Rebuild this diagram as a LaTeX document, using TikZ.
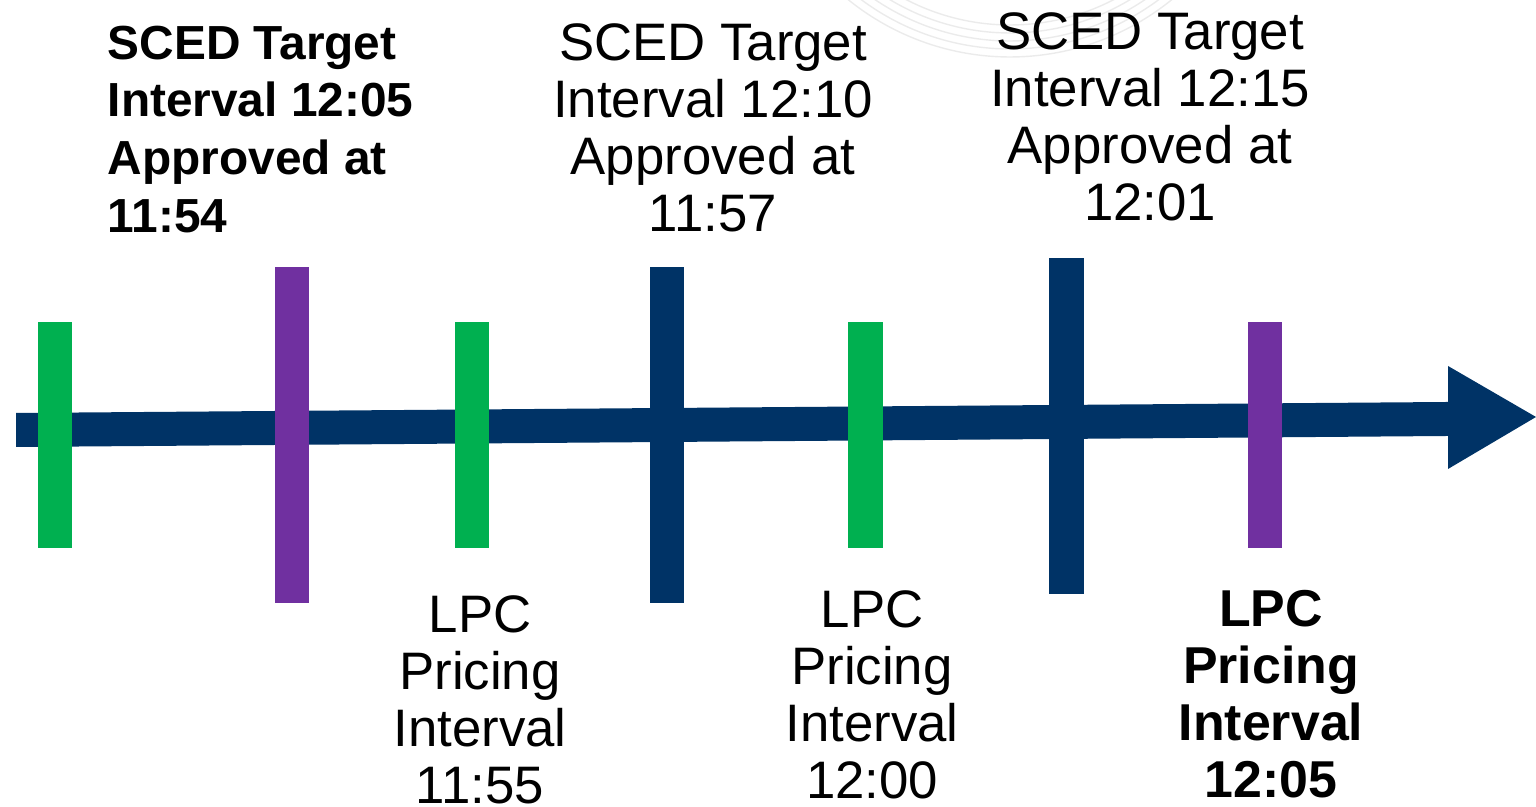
\documentclass[tikz,border=0pt]{standalone}
\usepackage{fontspec}
\setmainfont{Liberation Sans}
\usepackage{tikz}

\definecolor{achseblau}{HTML}{003366}
\definecolor{lpcgruen}{HTML}{00B050}
\definecolor{scedlila}{HTML}{7030A0}
\definecolor{wasserzeichen}{HTML}{EBEBEB}

\begin{document}
\begin{tikzpicture}[x=0.01cm,y=0.01cm,
		beschriftung/.style={inner sep=0pt, align=center, font=\fontsize{15}{16.2}\selectfont},
		fettschrift/.style={inner sep=0pt, font=\bfseries\fontsize{14.75}{16.2}\selectfont}]
		\useasboundingbox (0,0) rectangle (1536,807);
		
		%Wasserzeichen oben rechts
		\foreach \r in {225,233,241,249,257}
		\draw[wasserzeichen, line width=0.4pt] (1010,1007) ++(215:\r) arc (215:328:\r);
		
		%Zeitachse mit Pfeilspitze
		\coordinate (L1) at (16,394);
		\coordinate (L2) at (16,360);
		\coordinate (S1) at (1448,405);
		\coordinate (S2) at (1448,371);
		\coordinate (H1) at (1448,441);
		\coordinate (H2) at (1448,338);
		\coordinate (T) at (1536,390);
		\fill[achseblau] (L1) -- (S1) -- (H1) -- (T) -- (H2) -- (S2) -- (L2) -- cycle;
		
		%Markierungen
		\fill[lpcgruen]   (38,485) rectangle (72,259);
		\fill[scedlila]   (275,540) rectangle (309,204);
		\fill[lpcgruen]   (455,485) rectangle (489,259);
		\fill[achseblau]  (650,540) rectangle (684,204);
		\fill[lpcgruen]   (848,485) rectangle (883,259);
		\fill[achseblau]  (1049,549) rectangle (1084,213);
		\fill[scedlila]   (1248,485) rectangle (1282,259);
		
		%Beschriftung oben
		\node[fettschrift, align=left, anchor=north west, font=\bfseries\fontsize{13.6}{16.4}\selectfont]
		(sced1) at (107,782) {SCED Target\\Interval 12:05\\Approved at\\11:54};
		\node[beschriftung, anchor=north] (sced2) at (713,784) {SCED Target\\Interval 12:10\\Approved at\\11:57};
		\node[beschriftung, anchor=north] (sced3) at (1150,795) {SCED Target\\Interval 12:15\\Approved at\\12:01};
		
		%Beschriftung unten
		\node[beschriftung, anchor=north] (lpc1) at (480,212) {LPC\\Pricing\\Interval\\11:55};
		\node[beschriftung, anchor=north] (lpc2) at (872,217) {LPC\\Pricing\\Interval\\12:00};
		\node[fettschrift, align=center, anchor=north] (lpc3) at (1271,217) {LPC\\Pricing\\Interval\\12:05};
		
		\end{tikzpicture}
\end{document}
